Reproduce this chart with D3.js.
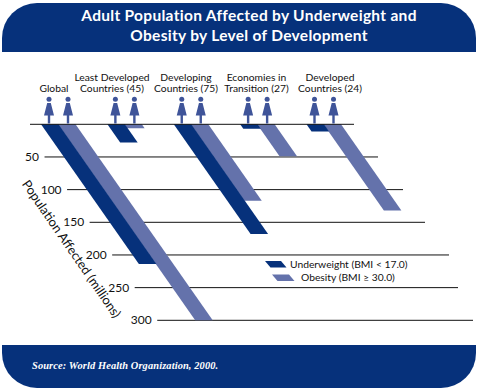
<!DOCTYPE html>
<html><head><meta charset="utf-8">
<script src="https://cdn.jsdelivr.net/npm/d3@7"></script>
<style>html,body{margin:0;padding:0;background:#fff}svg{display:block}</style>
</head><body><div id="c"></div>
<script>
const categories = ["Global","Least Developed Countries (45)","Developing Countries (75)","Economies in Transition (27)","Developed Countries (24)"];
const labelLines = [["Global"],["Least Developed","Countries (45)"],["Developing","Countries (75)"],["Economies in","Transition (27)"],["Developed","Countries (24)"]];
const underweight = [214, 28, 168, 7, 11];
const obesity = [300, 6, 117, 49, 132];
const tickValues = [50,100,150,200,250,300];
const titleLines = ["Adult Population Affected by Underweight and","Obesity by Level of Development"];
const legendLabels = ["Underweight (BMI < 17.0)","Obesity (BMI ≥ 30.0)"];
const source = "Source: World Health Organization, 2000.";
const axisTitle = "Population Affected (millions)";

const NAVY="#06317b", PERI="#6472ab", FIG="#3f5499", INK="#111";
const W=478,H=391, FONT="Lato, 'Open Sans', sans-serif";
const slant=0.70, barW=17.5;
const tickEnds=[378,403,425,449,458,473];
const svg=d3.select("#c").append("svg").attr("width",W).attr("height",H);
const y=d3.scaleLinear().domain([0,300]).range([124.3,320.3]);
const x=d3.scaleLinear().domain([0,4]).range([41,306.5]);

// panels
svg.append("path").attr("fill",NAVY).attr("d","M2,52V38A35,35 0 0 1 37,3H441A35,35 0 0 1 476,38V52Z");
svg.append("path").attr("fill",NAVY).attr("d","M2,345H476V353A35,35 0 0 1 441,388H37A35,35 0 0 1 2,353Z");
svg.selectAll("text.t").data(titleLines).join("text").attr("class","t")
 .attr("x",249).attr("y",(d,i)=>21+i*20).attr("text-anchor","middle")
 .attr("font-family",FONT).attr("font-weight",700).attr("font-size",15.5).attr("letter-spacing",0.3).attr("fill","#fff").text(d=>d);
svg.append("text").attr("x",32).attr("y",369).attr("font-family","'Liberation Serif',serif").attr("font-style","italic").attr("font-weight",700)
 .attr("font-size",10.4).attr("letter-spacing",0.12).attr("fill","#fff").text(source);

// tick lines
const tickStart=v=>22+0.69*(y(v)-y(0));
svg.selectAll("line.tick").data(tickValues).join("line").attr("class","tick")
 .attr("x1",tickStart).attr("x2",(d,i)=>tickEnds[i]).attr("y1",d=>y(d)).attr("y2",d=>y(d)).attr("stroke",INK).attr("stroke-width",1);
svg.selectAll("text.tl").data(tickValues).join("text").attr("class","tl")
 .attr("x",d=>tickStart(d)-5.5).attr("y",d=>y(d)+4).attr("text-anchor","end")
 .attr("font-family",FONT).attr("font-size",12).attr("fill",INK).text(d=>d);
svg.append("text").attr("transform","translate(21.5,184) rotate(55.5)").attr("font-family",FONT).attr("font-size",12.8).attr("fill",INK).text(axisTitle);

// bars
const para=(x0,v,w)=>{const b=y(v)-y(0),t=y(0);return `M${x0},${t}H${x0+w}L${x0+w+b*slant},${t+b}H${x0+b*slant}Z`;};
svg.selectAll("path.o").data(obesity).join("path").attr("class","o").attr("fill",PERI).attr("d",(d,i)=>para(x(i)+17,d,barW));
svg.selectAll("path.u").data(underweight).join("path").attr("class","u").attr("fill",NAVY).attr("d",(d,i)=>para(x(i),d,barW));

// baseline
svg.append("line").attr("x1",30).attr("x2",354).attr("y1",y(0)).attr("y2",y(0)).attr("stroke",INK).attr("stroke-width",1);

// figures
const figure=(g,cx)=>{
 const a=g.append("g").attr("transform",`translate(${cx},0)`).attr("fill",FIG);
 a.append("circle").attr("cx",0).attr("cy",99.3).attr("r",2.5);
 a.append("path").attr("d","M-1.8,103H1.8L5,115.5H1.2V123.5H-1.2V115.5H-5Z");
};
categories.forEach((c,i)=>{figure(svg,x(i)+8);figure(svg,x(i)+27);});

// labels
const labelCx=[54,112,186,256.5,330];
categories.forEach((c,i)=>{
 const ls=labelLines[i];
 ls.forEach((l,k)=>svg.append("text").attr("x",labelCx[i]).attr("y",92-(ls.length-1-k)*11).attr("text-anchor","middle")
  .attr("font-family",FONT).attr("font-size",10.3).attr("fill",INK).text(l));
});

// legend
const lg=[{c:NAVY,x:265,w:16,tx:290,l:legendLabels[0],y:264.3},{c:PERI,x:272,w:17,tx:301,l:legendLabels[1],y:277.7}];
lg.forEach(d=>{
 svg.append("path").attr("fill",d.c).attr("d",`M${d.x},${d.y-3.2}H${d.x+d.w}L${d.x+d.w+5.5},${d.y+3.2}H${d.x+5.5}Z`);
 svg.append("text").attr("x",d.tx).attr("y",d.y+3.5).attr("font-family",FONT).attr("font-size",10.3).attr("fill",INK).text(d.l);
});
</script></body></html>
